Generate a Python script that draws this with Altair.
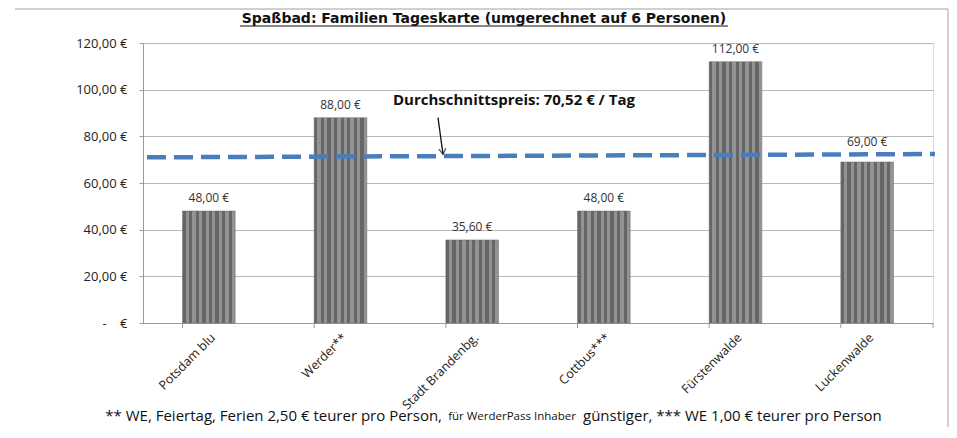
import altair as alt
import pandas as pd

categories = ["Potsdam blu", "Werder**", "Stadt Brandenbg.", "Cottbus***", "Fürstenwalde", "Luckenwalde"]
prices = [48.00, 88.00, 35.60, 48.00, 112.00, 69.00]
avg_line = [71.0, 72.4]          # dashed average line as drawn (left end, right end)
avg_text = "Durchschnittspreis: 70,52 € / Tag"
title_text = "Spaßbad: Familien Tageskarte (umgerechnet auf 6 Personen)"
foot1 = "** WE, Feiertag, Ferien 2,50 € teurer pro Person,"
foot2 = "für WerderPass Inhaber"
foot3 = "günstiger, *** WE 1,00 € teurer pro Person"
raised_label = "Luckenwalde"   # its value label sits above the dashed line

labels = [f"{v:.2f}".replace(".", ",") + " €" for v in prices]
df = pd.DataFrame({"cat": categories, "price": prices, "label": labels})

W, H = 790, 280
FONT = "Open Sans"
NB = "\u00a0"

# striped grey fill to hint at the hatched bar texture
stops = []
n_per = 8
for i in range(n_per):
    a = i / n_per
    m = (i + 0.5) / n_per
    b = (i + 1) / n_per
    stops += [alt.GradientStop(offset=a, color="#666666"), alt.GradientStop(offset=m, color="#666666"),
              alt.GradientStop(offset=m, color="#939393"), alt.GradientStop(offset=b, color="#939393")]
bar_fill = alt.LinearGradient(gradient="linear", stops=stops, x1=0, x2=1, y1=0, y2=0)

xs = alt.X("cat:N", sort=categories,
           scale=alt.Scale(paddingInner=0.6, paddingOuter=0.3),
           axis=alt.Axis(title=None, labelAngle=-45, labelFont=FONT, labelFontSize=12.5,
                         labelColor="#222222", ticks=False, domainColor="#9a9a9a",
                         labelPadding=8, labelAlign="right", labelBaseline="top"))
ys = alt.Y("price:Q", scale=alt.Scale(domain=[0, 120]),
           axis=alt.Axis(title=None, values=[0, 20, 40, 60, 80, 100, 120],
                         labelExpr=f"datum.value == 0 ? '-{NB}{NB}{NB}{NB}€' : replace(format(datum.value, '.2f'), '.', ',') + ' €'",
                         labelFont=FONT, labelFontSize=13, labelColor="#222222",
                         gridColor="#b8b8b8", domainColor="#9a9a9a", tickColor="#9a9a9a",
                         tickSize=4, labelPadding=12))

base = alt.Chart(df)
bars = base.mark_bar(fill=bar_fill, stroke="#6a6a6a", strokeWidth=0.5).encode(x=xs, y=ys)
vals = base.transform_filter(alt.datum.cat != raised_label).mark_text(
    baseline="bottom", dy=-6, font=FONT, fontSize=12, color="#333333").encode(
    x=alt.X("cat:N", sort=categories), y="price:Q", text="label:N")
vals_up = base.transform_filter(alt.datum.cat == raised_label).mark_text(
    baseline="bottom", dy=-13, font=FONT, fontSize=12, color="#333333").encode(
    x=alt.X("cat:N", sort=categories), y="price:Q", text="label:N")
leader = base.transform_filter(alt.datum.cat == raised_label).mark_rule(color="#666666").encode(
    x=alt.X("cat:N", sort=categories), y="price:Q", y2=alt.Y2("price:Q"))

# category boundary ticks on x axis
ticks = base.mark_rule(color="#9a9a9a").encode(
    x=alt.X("cat:N", sort=categories, bandPosition=0), y=alt.value(H), y2=alt.value(H + 5))
end_tick = alt.Chart(pd.DataFrame({"a": [0]})).mark_rule(color="#9a9a9a").encode(
    x=alt.value(W), y=alt.value(H), y2=alt.value(H + 5))

avg_df = pd.DataFrame({"y1": [avg_line[0]], "y2": [avg_line[1]]})
avg = alt.Chart(avg_df).mark_rule(color="#4a7ebb", strokeWidth=4.5, strokeDash=[19, 8]).encode(
    x=alt.value(4), x2=alt.value(792), y=alt.Y("y1:Q"), y2="y2:Q")

ann_df = pd.DataFrame({"t": [avg_text], "ytop": [88.0], "ybot": [72.3]})
ann_text = alt.Chart(ann_df).mark_text(align="left", baseline="middle", font=FONT, fontSize=15,
                                       fontWeight="bold", color="#111111").encode(
    x=alt.value(250), y=alt.value(57), text="t:N")
arrow = alt.Chart(ann_df).mark_rule(color="#111111", strokeWidth=1.3).encode(
    x=alt.value(295), x2=alt.value(300), y="ytop:Q", y2="ybot:Q")
head = alt.Chart(ann_df).mark_point(shape="M-1,-1.6L0,0L1,-1.6", filled=False, stroke="#111111",
                                    strokeWidth=1.3, size=50, angle=353).encode(
    x=alt.value(300), y="ybot:Q")

title = alt.Chart(pd.DataFrame({"t": [title_text]})).mark_text(
    font="DejaVu Sans", fontSize=14, fontWeight="bold", color="#111111", baseline="alphabetic").encode(
    x=alt.value(341), y=alt.value(-20), text="t:N")
underline = alt.Chart(pd.DataFrame({"a": [0]})).mark_rule(color="#111111", strokeWidth=1).encode(
    x=alt.value(97), x2=alt.value(585), y=alt.value(-17))

frame_top = alt.Chart(pd.DataFrame({"a": [0]})).mark_rule(color="#a0a0a0").encode(
    x=alt.value(-128), x2=alt.value(805), y=alt.value(-34))
frame_right = alt.Chart(pd.DataFrame({"a": [0]})).mark_rule(color="#a0a0a0").encode(
    x=alt.value(805), y=alt.value(-34), y2=alt.value(385))

foot_a = alt.Chart(pd.DataFrame({"t": [foot1]})).mark_text(
    align="right", baseline="middle", font=FONT, fontSize=15, color="#111111").encode(
    x=alt.value(299), y=alt.value(373), text="t:N")
foot_b = alt.Chart(pd.DataFrame({"t": [foot2]})).mark_text(
    align="center", baseline="middle", font=FONT, fontSize=11.5, color="#111111").encode(
    x=alt.value(369), y=alt.value(374), text="t:N")
foot_c = alt.Chart(pd.DataFrame({"t": [foot3]})).mark_text(
    align="left", baseline="middle", font=FONT, fontSize=15, color="#111111").encode(
    x=alt.value(440), y=alt.value(373), text="t:N")

chart = alt.layer(bars, leader, vals, vals_up, ticks, end_tick, avg, ann_text, arrow, head, title,
                  underline, frame_top, frame_right, foot_a, foot_b, foot_c).properties(
    width=W, height=H,
    autosize=alt.AutoSizeParams(type="none"),
    padding={"left": 135, "top": 35, "right": 16, "bottom": 104},
).configure_view(stroke=None).configure(background="white")

chart.save("out.html", embed_options={"renderer": "svg", "actions": False})
